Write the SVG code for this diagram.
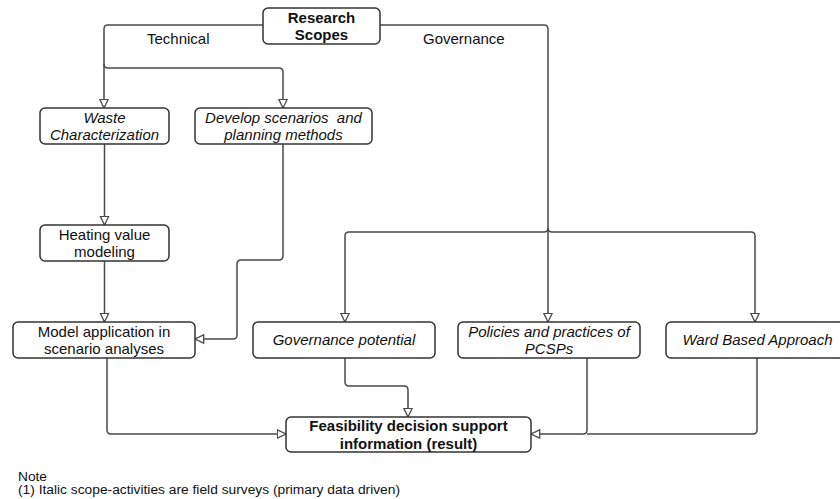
<svg xmlns="http://www.w3.org/2000/svg" width="840" height="499" viewBox="0 0 840 499">
<style>
.box{fill:#fff;stroke:#333;stroke-width:1.5}
.c{fill:none;stroke:#4a4a4a;stroke-width:1.5}
text{font-family:"Liberation Sans",Arial,sans-serif;fill:#111}
.t{font-size:15px;text-anchor:middle}
.b{font-weight:bold}
.i{font-style:italic}
.lbl{font-size:15px}
.note{font-size:12px}
</style>
<defs>
<marker id="ar" markerUnits="userSpaceOnUse" markerWidth="11" markerHeight="11" refX="9.5" refY="5" orient="auto" viewBox="0 0 11 10">
<path d="M0.8,0.8 L9.5,5 L0.8,9.2 Z" fill="#fff" stroke="#4a4a4a" stroke-width="1.3"/>
</marker>
</defs>
<rect width="840" height="499" fill="#fff"/>
<g id="connectors">
<path class="c" d="M263,25 H108 Q104,25 104,29 V108" marker-end="url(#ar)"/>
<path class="c" d="M104,64 Q104,68 108,68 H279 Q283,68 283,72 V108" marker-end="url(#ar)"/>
<path class="c" d="M380,25 H544 Q548,25 548,29 V322" marker-end="url(#ar)"/>
<path class="c" d="M548,228 Q548,232 544,232 H349 Q345,232 345,236 V322" marker-end="url(#ar)"/>
<path class="c" d="M548,228 Q548,232 552,232 H751 Q755,232 755,236 V322" marker-end="url(#ar)"/>
<path class="c" d="M104.5,144 V225" marker-end="url(#ar)"/>
<path class="c" d="M104.5,261 V322" marker-end="url(#ar)"/>
<path class="c" d="M283,144 V256 Q283,260 279,260 H241 Q237,260 237,264 V335 Q237,339 233,339 H195" marker-end="url(#ar)"/>
<path class="c" d="M107,358 V430 Q107,434 111,434 H286" marker-end="url(#ar)"/>
<path class="c" d="M345,358 V382 Q345,386 349,386 H404 Q408,386 408,390 V417" marker-end="url(#ar)"/>
<path class="c" d="M587,358 V430 Q587,434 583,434 H531" marker-end="url(#ar)"/>
<path class="c" d="M757,358 V430 Q757,434 753,434 H587"/>
<text class="lbl" x="147" y="44.3">Technical</text>
<text class="lbl" x="423" y="44.3">Governance</text>
</g>
<g id="research-scopes">
<rect class="box" x="263" y="8" width="117" height="36" rx="5"/>
<text class="t b" x="321.5" y="22.6">Research</text>
<text class="t b" x="321.5" y="40.4">Scopes</text>
</g>
<g id="waste-characterization">
<rect class="box" x="40" y="108" width="129" height="36" rx="5"/>
<text class="t i" x="104.5" y="122.6">Waste</text>
<text class="t i" x="104.5" y="140.4">Characterization</text>
</g>
<g id="develop-scenarios">
<rect class="box" x="195" y="108" width="177" height="36" rx="5"/>
<text class="t i" x="283.5" y="122.6" xml:space="preserve">Develop scenarios  and</text>
<text class="t i" x="283.5" y="140.4">planning methods</text>
</g>
<g id="heating-value">
<rect class="box" x="40" y="225" width="129" height="36" rx="5"/>
<text class="t" x="104.5" y="239.6">Heating value</text>
<text class="t" x="104.5" y="257.4">modeling</text>
</g>
<g id="model-application">
<rect class="box" x="13" y="322" width="182" height="36" rx="5"/>
<text class="t" x="104" y="336.6">Model application in</text>
<text class="t" x="104" y="354.4">scenario analyses</text>
</g>
<g id="governance-potential">
<rect class="box" x="253" y="322" width="182" height="36" rx="5"/>
<text class="t i" x="344" y="345.4">Governance potential</text>
</g>
<g id="policies-practices">
<rect class="box" x="458" y="322" width="182" height="36" rx="5"/>
<text class="t i" x="549" y="336.6">Policies and practices of</text>
<text class="t i" x="549" y="354.4">PCSPs</text>
</g>
<g id="ward-based">
<rect class="box" x="666" y="322" width="180" height="36" rx="5"/>
<text class="t i" x="757.5" y="345.4">Ward Based Approach</text>
</g>
<g id="feasibility">
<rect class="box" x="286" y="417" width="245" height="35" rx="5"/>
<text class="t b" x="408.5" y="430.8">Feasibility decision support</text>
<text class="t b" x="408.5" y="448.6">information (result)</text>
</g>
<g id="note">
<text class="note" x="18" y="481" textLength="29" lengthAdjust="spacingAndGlyphs">Note</text>
<text class="note" x="18" y="493.6" textLength="382" lengthAdjust="spacingAndGlyphs">(1) Italic scope-activities are field surveys (primary data driven)</text>
</g>
</svg>
